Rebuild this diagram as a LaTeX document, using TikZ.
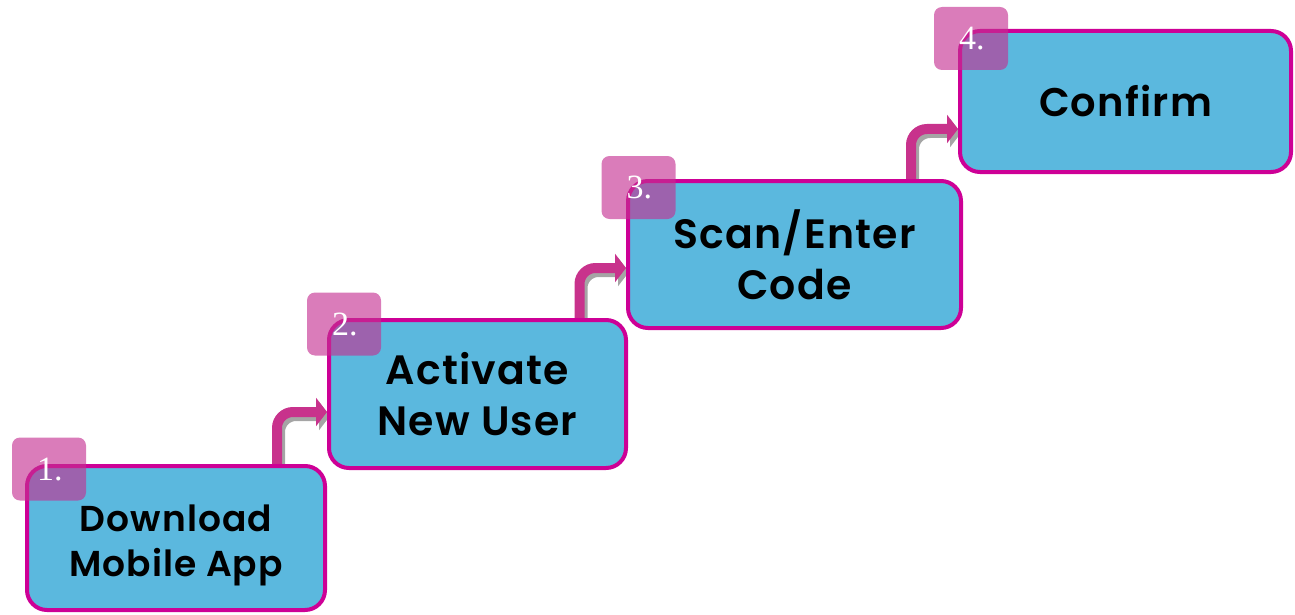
\documentclass[tikz,border=0pt]{standalone}
\usepackage{fontspec}
\setmainfont{Poppins}[BoldFont={Poppins SemiBold}, BoldFeatures={LetterSpace=3}]
\newfontfamily\numfont{Liberation Serif}
\usetikzlibrary{arrows.meta}
\definecolor{boxblue}{RGB}{91,184,222}
\definecolor{boxborder}{RGB}{205,0,150}
\definecolor{badgepink}{RGB}{197,48,145}
\definecolor{arrowpink}{RGB}{200,50,140}
\definecolor{shadowgray}{RGB}{165,165,165}
\begin{document}
\begin{tikzpicture}[x=1pt,y=-1pt,
 stepbox/.style={draw=boxborder, line width=4pt, fill=boxblue, rounded corners=20pt, inner sep=0pt},
 steplabel/.style={align=center, inner sep=0pt, text=black, font=\bfseries\fontsize{41}{51}\selectfont},
 badge/.style={fill=badgepink, fill opacity=0.63, rounded corners=8pt, minimum width=74pt, minimum height=63pt, inner sep=0pt},
 num/.style={text=white, font=\numfont\fontsize{34}{34}\selectfont, anchor=base west, inner sep=0pt},
 arr/.style={draw=arrowpink, line width=10pt, rounded corners=16pt, -{Triangle[length=11pt,width=28pt]}},
 arrshadow/.style={arr, draw=shadowgray, transform canvas={shift={(3pt,-4pt)}}}
]
\useasboundingbox (0,0) rectangle (1295,615);

% box outlines as named anchors for the connectors
\path node[stepbox, minimum width=298pt, minimum height=144pt, draw=none, fill=none] (b1) at (176,538) {};
\path node[stepbox, minimum width=297pt, minimum height=148pt, draw=none, fill=none] (b2) at (477.5,394) {};
\path node[stepbox, minimum width=333pt, minimum height=147pt, draw=none, fill=none] (b3) at (794.5,254.5) {};
\path node[stepbox, minimum width=331pt, minimum height=141pt, draw=none, fill=none] (b4) at (1125.5,101.5) {};

% arrows
\draw[arrshadow] ([xshift=101pt]b1.north) |- ([yshift=-18pt]b2.west);
\draw[arr] ([xshift=101pt]b1.north) |- ([yshift=-18pt]b2.west);
\draw[arrshadow] ([xshift=102pt]b2.north) |- ([yshift=-13.5pt]b3.west);
\draw[arr] ([xshift=102pt]b2.north) |- ([yshift=-13.5pt]b3.west);
\draw[arrshadow] ([xshift=116.5pt]b3.north) |- ([yshift=-27.5pt]b4.west);
\draw[arr] ([xshift=116.5pt]b3.north) |- ([yshift=-27.5pt]b4.west);

% visible boxes
\node[stepbox, minimum width=298pt, minimum height=144pt] (v1) at (b1) {};
\node[stepbox, minimum width=297pt, minimum height=148pt] (v2) at (b2) {};
\node[stepbox, minimum width=333pt, minimum height=147pt] (v3) at (b3) {};
\node[stepbox, minimum width=331pt, minimum height=141pt] (v4) at (b4) {};
\node[steplabel, font=\bfseries\fontsize{36}{45}\selectfont] (l1) at ([yshift=-7pt]v1.center) {Download\\Mobile App};
\node[steplabel] (l2) at (v2.center) {Activate\\New User};
\node[steplabel] (l3) at (v3.center) {Scan/Enter\\Code};
\node[steplabel, font=\bfseries\fontsize{40}{51}\selectfont] (l4) at (v4.center) {Confirm};

% badges
\node[badge] (n1) at (49,469) {};
\node[badge] (n2) at (344,324) {};
\node[badge] (n3) at (638.5,187.5) {};
\node[badge] (n4) at (971,38.5) {};
\node[num] (t1) at ([xshift=25pt,yshift=-43pt]n1.north west) {1.};
\node[num] (t2) at ([xshift=25pt,yshift=-43pt]n2.north west) {2.};
\node[num] (t3) at ([xshift=25pt,yshift=-43pt]n3.north west) {3.};
\node[num] (t4) at ([xshift=25pt,yshift=-43pt]n4.north west) {4.};
\end{tikzpicture}
\end{document}
